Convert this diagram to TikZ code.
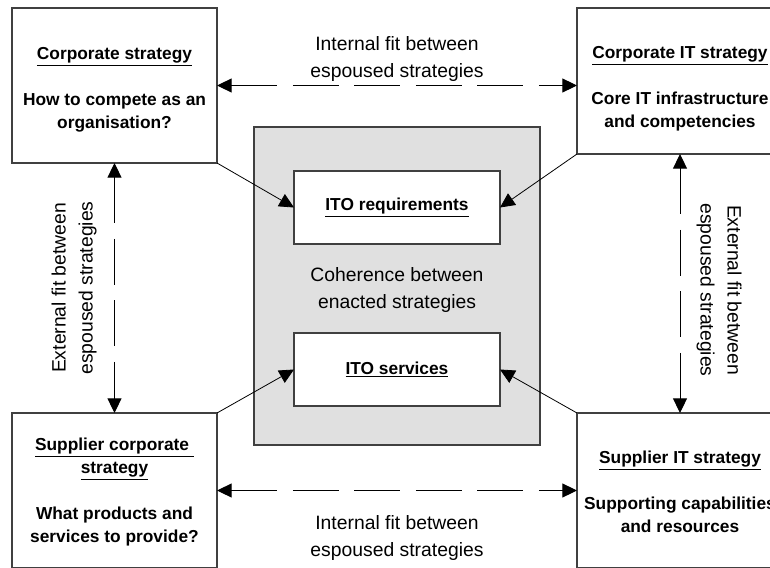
\documentclass[tikz,border=0pt]{standalone}
\usepackage{fontspec}
\setmainfont{Liberation Sans}
\usetikzlibrary{arrows.meta,calc}
\begin{document}
\begin{tikzpicture}[x=0.75pt,y=-0.75pt,
  box/.style={draw=black!75,line width=0.8pt,fill=white,inner sep=0pt,outer sep=0pt,anchor=north west},
  bigbox/.style={box,minimum width=153.75pt,minimum height=116.25pt},
  innerbox/.style={box,minimum width=154.5pt,minimum height=54.75pt},
  greybox/.style={box,fill=black!12,minimum width=214.5pt,minimum height=238.5pt},
  btext/.style={font=\fontsize{13}{17.25}\selectfont\bfseries,align=center,inner sep=0pt},
  rtext/.style={font=\fontsize{14.5}{20.25}\selectfont,align=center,inner sep=0pt},
  tip/.style={-{Triangle[length=11pt,width=10.5pt]}},
  dbl/.style={{Triangle[length=11pt,width=10.5pt]}-{Triangle[length=11pt,width=10.5pt]},line width=0.75pt,dash pattern=on 34.5pt off 11.6pt},
  diag/.style={tip,line width=0.6pt}]
\useasboundingbox (0,0) rectangle (770,567);
\begin{scope}
\clip (0,0) rectangle (770,567);
\node[greybox] (grey) at (254,127) {};
\node[innerbox] (req) at (294,171) {};
\node[innerbox] (srv) at (294,333) {};
\node[bigbox] (tl) at (12,8) {};
\node[box,minimum width=154.5pt,minimum height=109.5pt] (tr) at (577,8) {};
\node[bigbox] (bl) at (12,413) {};
\node[box,minimum width=154.5pt,minimum height=116.25pt] (br) at (577,413) {};

\node[btext] (reqt) at (req.center) {\underline{ITO requirements}};
\node[btext] (srvt) at (srv.center) {\underline{ITO services}};
\node[rtext] (coh) at (397,290) {Coherence between\\enacted strategies};

\node[btext] (tlt) at (114.5,90) {\underline{Corporate strategy}\\[17pt]How to compete as an\\organisation?};
\node[btext] (trt) at (680,89) {\underline{Corporate IT strategy}\\[17pt]Core IT infrastructure\\and competencies};
\node[btext] (blt) at (114.5,492) {\underline{Supplier corporate }\\\underline{strategy}\\[17pt]What products and\\services to provide?};
\node[btext] (brt) at (680,492) {\underline{Supplier IT strategy}\\[17pt]Supporting capabilities\\and resources};

\node[rtext] (topfit) at (397,59) {Internal fit between\\espoused strategies};
\node[rtext] (botfit) at (397,538) {Internal fit between\\espoused strategies};
\node[rtext,rotate=90] (leftfit) at (74,288) {External fit between\\espoused strategies};
\node[rtext,rotate=-90] (rightfit) at (719,290) {External fit between\\espoused strategies};

\draw[dbl] (tl.east) -- (tl.east -| tr.west);
\draw[dbl] (bl.east) -- (bl.east -| br.west);
\draw[dbl] (tl.south) -- (tl.south |- bl.north);
\draw[dbl] (tr.south) -- (tr.south |- br.north);

\draw[diag] (tl.south east) -- (req.west);
\draw[diag] (tr.south west) -- (req.east);
\draw[diag] (bl.north east) -- (srv.west);
\draw[diag] (br.north west) -- (srv.east);
\end{scope}
\end{tikzpicture}
\end{document}
